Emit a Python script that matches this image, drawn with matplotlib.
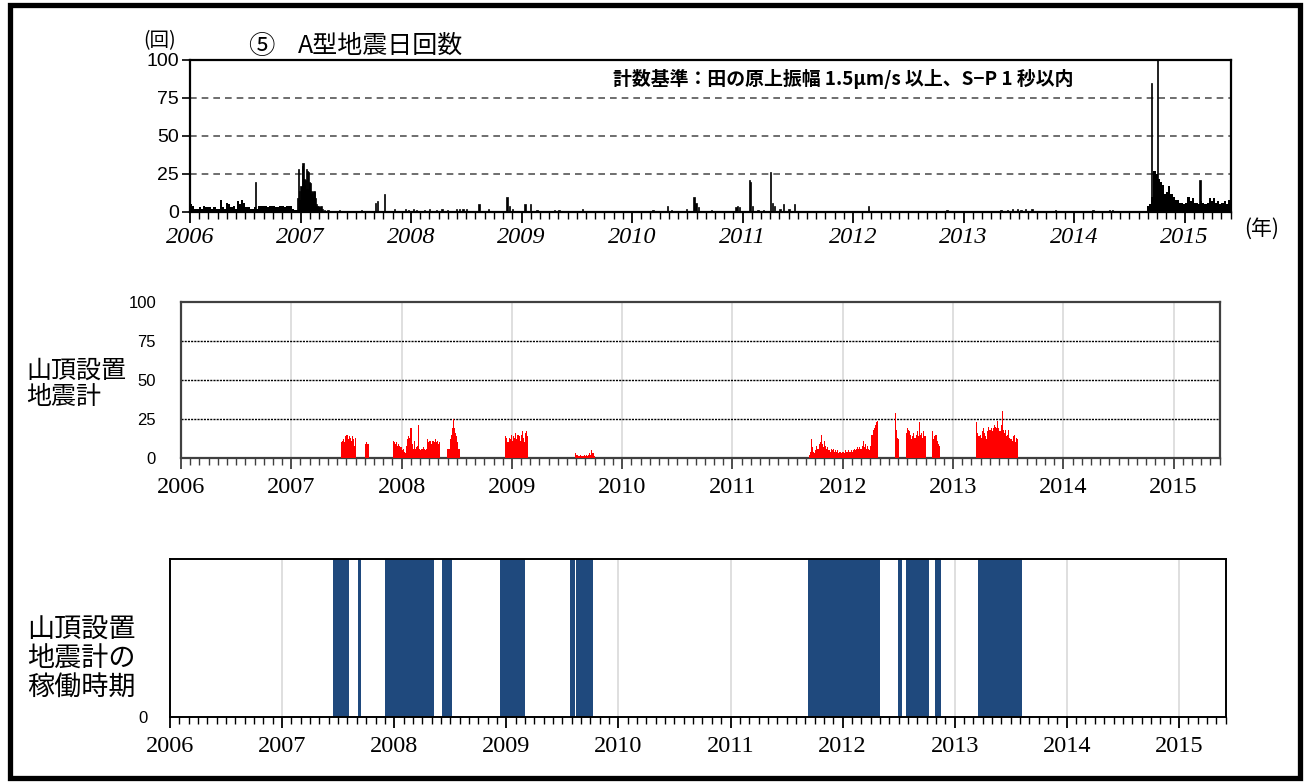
"""
Ontake A-type earthquake daily counts (2006 - mid 2015), three stacked panels:
daily counts at Tanohara, counts from the summit seismometer, and the periods
when the summit seismometer was running.
"""

import matplotlib
matplotlib.use("Agg")
import matplotlib.pyplot as plt
from matplotlib.patches import Rectangle
import numpy as np


# -----------------------------
# 1. Data
# -----------------------------

X_START = 2006.0
X_END = 2015.42
YEARS = list(range(2006, 2016))

# Top panel: weekly background counts (2006) and after the Sept 2014 unrest
TOP_2006_START = 2006.0
TOP_2006_WEEKLY = [5, 4, 2, 2, 3, 2, 4, 3, 3, 3, 2, 3, 2, 2, 8, 3, 2, 6, 5, 3,
                   4, 2, 7, 5, 8, 6, 3, 3, 2, 2, 3, 2, 4, 4, 4, 4, 3, 4, 4, 4,
                   3, 3, 4, 4, 3, 4, 4, 4, 2, 1, 1, 1]
TOP_2014_START = 2014.66
TOP_2014_WEEKLY = [4, 5, 10, 27, 25, 22, 20, 18, 12, 13, 17, 12, 10, 8, 8, 6,
                   6, 5, 6, 10, 7, 9, 6, 6, 5, 7, 6, 5, 6, 9, 7, 9, 6, 7, 5,
                   6, 7, 5, 8, 6, 8]

# Top panel: single-day spikes (decimal year, count)
TOP_DAY_YEAR = [2006.59,
                2006.975, 2006.982, 2006.989, 2006.996, 2007.003, 2007.010,
                2007.017, 2007.024, 2007.031, 2007.038, 2007.045, 2007.052,
                2007.059, 2007.066, 2007.073, 2007.080, 2007.087, 2007.094,
                2007.101, 2007.108, 2007.115, 2007.122, 2007.129, 2007.136,
                2007.143, 2007.150, 2007.157, 2007.164, 2007.171, 2007.185,
                2007.200, 2007.215,
                2007.25, 2007.35, 2007.55, 2007.68, 2007.695, 2007.76, 2007.85,
                2007.95, 2007.98, 2008.02, 2008.05, 2008.12, 2008.17, 2008.23,
                2008.28, 2008.33, 2008.41, 2008.44, 2008.47, 2008.50, 2008.615,
                2008.70, 2008.87, 2008.89, 2008.92, 2009.03, 2009.08, 2009.14,
                2009.30, 2009.34, 2009.55, 2010.19, 2010.32, 2010.36, 2010.49,
                2010.56, 2010.58, 2010.60, 2010.72, 2010.94, 2010.955, 2010.97,
                2011.065, 2011.075, 2011.09, 2011.14, 2011.19, 2011.25, 2011.27,
                2011.29, 2011.34, 2011.37, 2011.42, 2011.47, 2012.14, 2012.85,
                2013.34, 2013.40, 2013.44, 2013.49, 2013.52, 2013.56, 2013.62,
                2013.83, 2014.17, 2014.32, 2014.35, 2014.698, 2014.752, 2015.14]
TOP_DAY_COUNT = [20,
                 9, 28, 14, 8, 17, 10, 30, 32, 22, 18, 21, 28, 15, 27, 26, 20,
                 19, 12, 14, 13, 10, 14, 13, 9, 5, 4, 3, 4, 3, 4, 2, 1,
                 1, 1, 1, 6, 7, 12, 2, 2, 1, 2, 1, 1, 2, 1, 2, 1, 2, 2, 2, 2,
                 5, 2, 10, 4, 2, 5, 5, 1, 1, 1, 2, 1, 4, 1, 2, 10, 6, 3, 1, 3,
                 4, 3, 21, 20, 4, 1, 1, 26, 6, 4, 2, 5, 2, 5, 4, 1, 1, 1, 2, 2,
                 1, 2, 2, 1, 1, 1, 1, 85, 100, 21]

# Middle panel: summit seismometer counts, one value every 0.01 year per group
RED_STEP = 0.01
RED_GROUP_START = [2007.45, 2007.67, 2007.92, 2008.415, 2008.94, 2009.57,
                   2011.69, 2012.47, 2012.57, 2012.81, 2013.21]
RED_GROUP_COUNTS = [
    [10, 11, 12, 10, 14, 15, 12, 14, 13, 11, 14, 12, 8, 13],
    [9, 10, 9],
    [11, 10, 9, 10, 8, 9, 8, 7, 5, 6, 4, 3, 8, 12, 14, 13, 19, 9, 6, 11, 6,
     7, 8, 21, 6, 5, 6, 7, 6, 5, 6, 12, 10, 11, 11, 9, 11, 10, 12, 10, 11,
     9, 10],
    [6, 6, 12, 15, 19, 25, 19, 16, 14, 10, 6],
    [14, 13, 10, 13, 12, 15, 11, 14, 13, 16, 12, 15, 14, 11, 15, 17, 13, 10,
     16, 17, 14],
    [3, 2, 2, 1, 1, 2, 1, 1, 2, 1, 2, 1, 2, 3, 2, 5, 3, 1],
    [2, 4, 12, 7, 4, 3, 5, 8, 6, 9, 10, 15, 9, 7, 11, 8, 6, 7, 5, 4, 6, 5, 6,
     4, 5, 4, 5, 3, 4, 3, 4, 4, 3, 5, 4, 4, 5, 4, 5, 4, 5, 6, 5, 6, 7, 6, 7,
     6, 8, 11, 7, 9, 6, 8, 6, 5, 8, 15, 18, 19, 21, 23, 24],
    [29, 18, 13, 12],
    [16, 19, 18, 17, 15, 12, 14, 16, 13, 15, 17, 14, 23, 15, 16, 13, 17, 14],
    [17, 12, 14, 15, 11, 9, 8],
    [23, 16, 14, 15, 13, 17, 19, 16, 14, 12, 17, 20, 18, 19, 17, 19, 21, 20,
     19, 24, 19, 17, 21, 30, 18, 16, 18, 14, 15, 18, 13, 12, 11, 14, 15, 10,
     13, 12],
]

# Bottom panel: periods when the summit seismometer was operating
OPERATION_START = [2007.45, 2007.675, 2007.92, 2008.425, 2008.94, 2009.565,
                   2009.625, 2011.69, 2012.49, 2012.565, 2012.82, 2013.21]
OPERATION_END = [2007.60, 2007.70, 2008.355, 2008.52, 2009.17, 2009.61,
                 2009.775, 2012.33, 2012.53, 2012.77, 2012.875, 2013.60]

# Colours and fonts
BLACK = "#000000"
RED = "#FF0000"
NAVY = "#1F497D"
GRID_GRAY = "#D9D9D9"
JP_FONT = ["Noto Sans CJK JP", "DejaVu Sans"]
SERIF = "Liberation Serif"
SANS = "Liberation Sans"

FIG_W, FIG_H = 1309, 783


# -----------------------------
# 2. Helpers
# -----------------------------

def axes_from_pixels(fig, left, top, right, bottom):
    """Place an axes using pixel edges measured from the top-left corner."""
    return fig.add_axes([left / FIG_W, 1 - bottom / FIG_H,
                         (right - left) / FIG_W, (bottom - top) / FIG_H])


def set_year_axis(ax, italic, label_pad, tick_color):
    """Yearly major ticks with labels, monthly minor ticks."""
    ax.set_xlim(X_START, X_END)
    months = [y + m / 12 for y in range(2006, 2016) for m in range(1, 12)]
    ax.set_xticks(YEARS)
    ax.set_xticks([m for m in months if m < X_END], minor=True)
    ax.set_xticklabels([str(y) for y in YEARS], family=SERIF,
                       style="italic" if italic else "normal", fontsize=17.5)
    ax.tick_params(axis="x", which="major", direction="out", length=8,
                   width=1.3, color=tick_color, pad=label_pad)
    ax.tick_params(axis="x", which="minor", direction="out", length=5,
                   width=1.0, color=tick_color)


def pixel_text(fig, x, y, text, **kwargs):
    fig.text(x / FIG_W, 1 - y / FIG_H, text, **kwargs)


# -----------------------------
# 3. Figure
# -----------------------------

fig = plt.figure(figsize=(FIG_W / 100, FIG_H / 100), dpi=100)

# ---- top panel: A-type earthquake daily counts ----
ax1 = axes_from_pixels(fig, 190, 60, 1231, 212)
weeks_2006 = TOP_2006_START + np.arange(len(TOP_2006_WEEKLY)) / 52
weeks_2014 = TOP_2014_START + np.arange(len(TOP_2014_WEEKLY)) / 52
ax1.bar(weeks_2006, TOP_2006_WEEKLY, width=1 / 52, align="edge",
        color=BLACK, linewidth=0)
ax1.bar(weeks_2014, TOP_2014_WEEKLY, width=1 / 52, align="edge",
        color=BLACK, linewidth=0)
ax1.bar(TOP_DAY_YEAR, TOP_DAY_COUNT, width=0.012, color=BLACK,
        edgecolor=BLACK, linewidth=0.5)
ax1.set_ylim(0, 100)
ax1.set_yticks([0, 25, 50, 75, 100])
ax1.set_yticklabels(["0", "25", "50", "75", "100"], family=SANS, fontsize=14)
ax1.tick_params(axis="y", direction="out", length=6, width=1.2, pad=2)
for level in (25, 50, 75):
    ax1.axhline(level, color="#555555", linewidth=1.2,
                linestyle=(0, (4, 3)), zorder=0)
set_year_axis(ax1, italic=True, label_pad=3, tick_color=BLACK)
for spine in ax1.spines.values():
    spine.set_linewidth(1.6)

# ---- middle panel: summit seismometer counts ----
ax2 = axes_from_pixels(fig, 181, 302, 1220, 458)
for start, counts in zip(RED_GROUP_START, RED_GROUP_COUNTS):
    days = start + RED_STEP * np.arange(len(counts))
    ax2.bar(days, counts, width=RED_STEP, align="edge", color=RED,
            linewidth=0, zorder=3)
ax2.set_ylim(0, 100)
ax2.set_yticks([0, 25, 50, 75, 100])
ax2.set_yticklabels(["0", "25", "50", "75", "100"], family=SANS, fontsize=12)
ax2.tick_params(axis="y", length=0, pad=18)
for level in (25, 50, 75):
    ax2.axhline(level, color=BLACK, linewidth=1.0,
                linestyle=(0, (1.5, 0.8)), zorder=1)
for year in YEARS[1:]:
    ax2.axvline(year, color=GRID_GRAY, linewidth=1.2, zorder=0)
set_year_axis(ax2, italic=False, label_pad=6, tick_color="#404040")
for spine in ax2.spines.values():
    spine.set_linewidth(1.6)
    spine.set_color("#404040")

# ---- bottom panel: operating periods ----
ax3 = axes_from_pixels(fig, 170, 559, 1226, 717)
for start, end in zip(OPERATION_START, OPERATION_END):
    ax3.axvspan(start, end, ymin=0, ymax=1, color=NAVY, linewidth=0, zorder=2)
for year in YEARS[1:]:
    ax3.axvline(year, color=GRID_GRAY, linewidth=1.2, zorder=0)
ax3.set_ylim(0, 1)
ax3.set_yticks([0])
ax3.set_yticklabels(["0"], family=SANS, fontsize=12)
ax3.tick_params(axis="y", length=0, pad=16)
set_year_axis(ax3, italic=False, label_pad=6, tick_color=BLACK)
for spine in ax3.spines.values():
    spine.set_linewidth(1.4)
    spine.set_zorder(3)

# ---- texts ----
pixel_text(fig, 160, 41, "(回)", family=JP_FONT, fontsize=14,
           ha="center", va="center")
pixel_text(fig, 261, 46, "⑤", family=JP_FONT, fontsize=19,
           ha="center", va="center")
pixel_text(fig, 298, 46, "A型地震日回数", family=JP_FONT, fontsize=18,
           ha="left", va="center")
pixel_text(fig, 613, 79, "計数基準：田の原上振幅 1.5μm/s 以上、S−P 1 秒以内",
           family=JP_FONT, fontsize=13.6, fontweight="bold",
           ha="left", va="center")
pixel_text(fig, 1262, 229, "(年)", family=JP_FONT, fontsize=15,
           ha="center", va="center")
pixel_text(fig, 26, 384, "山頂設置\n地震計", family=JP_FONT, fontsize=18,
           ha="left", va="center", linespacing=1.0)
pixel_text(fig, 27, 659, "山頂設置\n地震計の\n稼働時期", family=JP_FONT,
           fontsize=19.5, ha="left", va="center", linespacing=1.1)

# ---- outer frame ----
fig.add_artist(Rectangle((9.5 / FIG_W, 5.5 / FIG_H),
                         (1299.5 - 9.5) / FIG_W, (778 - 5.5) / FIG_H,
                         transform=fig.transFigure, fill=False,
                         edgecolor=BLACK, linewidth=3.8))

fig.savefig("out.png", dpi=100, facecolor="white")
